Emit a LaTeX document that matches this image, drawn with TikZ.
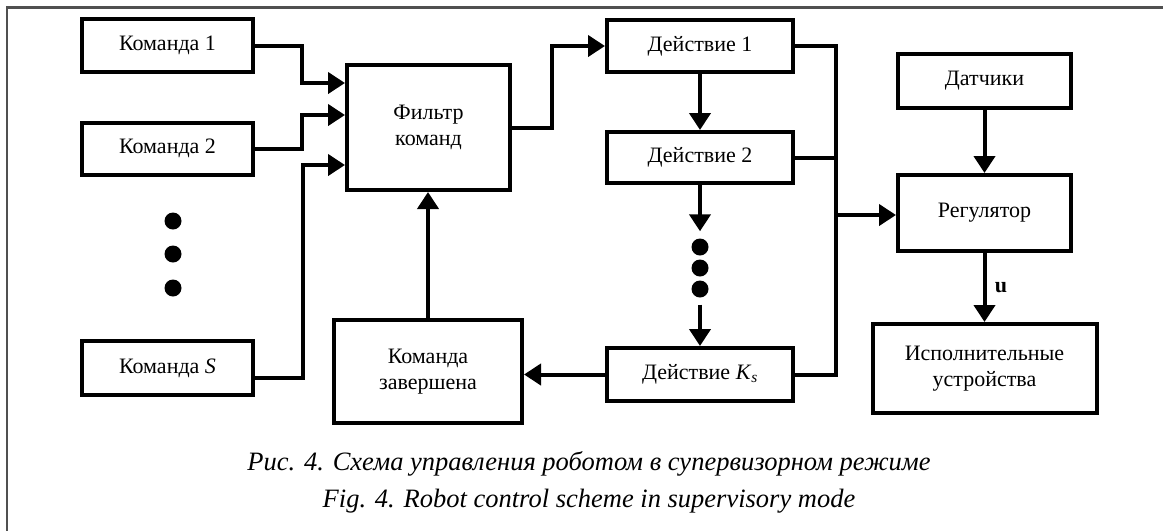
\documentclass[tikz,border=0pt]{standalone}
\usepackage{fontspec}
\setmainfont{Liberation Serif}
\usetikzlibrary{arrows.meta, positioning, calc}
\definecolor{framegray}{RGB}{80,80,80}
\newcommand{\blkfont}{\fontsize{22}{26.5}\selectfont}
\newcommand{\capfont}{\fontsize{26.5}{30}\selectfont\itshape}

\begin{document}
\begin{tikzpicture}[
    x=1pt, y=-1pt,
    blk/.style={draw, line width=4pt, align=center, inner sep=0pt, font=\blkfont},
    wire/.style={line width=4pt},
    arr/.style={wire, -{Triangle[length=17pt, width=21pt]}},
    bigdot/.style={circle, fill, inner sep=0pt, minimum size=17pt},
    captxt/.style={font=\capfont, anchor=base}
  ]
  \useasboundingbox (0,0) rectangle (1163,531);
  % frame
  \draw[framegray, line width=2.3pt] (1163,7.5) -- (7,7.5) -- (7,531);

  % commands
  \node[blk, minimum width=171pt, minimum height=53pt] (cmd1) at (167.5,45.5) {Команда 1};
  \node[blk, minimum width=171pt, minimum height=52pt] (cmd2) at (167.5,148.5) {Команда 2};
  \node[blk, minimum width=171pt, minimum height=54pt] (cmdS) at (167.5,368) {Команда \textit{S}};
  \node[bigdot] (cdot1) at (173,221) {};
  \node[bigdot] (cdot2) at (173,254) {};
  \node[bigdot] (cdot3) at (173,288) {};

  \node[blk, minimum width=163pt, minimum height=125pt] (filter) at (428.5,127.5) {Фильтр\\команд};
  \node[blk, minimum width=188pt, minimum height=103pt] (done) at (428,371.5) {Команда\\завершена};

  % actions
  \node[blk, minimum width=186pt, minimum height=52pt] (act1) at (700,46) {Действие 1};
  \node[blk, minimum width=186pt, minimum height=51pt] (act2) at (700,157.5) {Действие 2};
  \node[bigdot] (adot1) at (700,247) {};
  \node[bigdot] (adot2) at (700,268) {};
  \node[bigdot] (adot3) at (700,289) {};
  \node[blk, minimum width=186pt, minimum height=53pt] (actK) at (700,374.5) {Действие \textit{K}\textsubscript{\textit{s}}};

  % controller side
  \node[blk, minimum width=173pt, minimum height=54pt] (sens) at (984.5,81) {Датчики};
  \node[blk, minimum width=173pt, minimum height=76pt] (reg) at (984.5,213) {Регулятор};
  \node[blk, minimum width=224pt, minimum height=89pt] (exec) at (984.5,368.5) {Исполнительные\\устройства};

  \coordinate (busTop) at (836,46);
  \coordinate (busBot) at (836,374.5);

  % connectors
  \draw[arr] (cmd1.east) -- ++(47,0) |- ([yshift=44.5pt]filter.west);
  \draw[arr] (cmd2.east) -- ++(47,0) |- ([yshift=12.5pt]filter.west);
  \draw[arr] ([yshift=-10pt]cmdS.east) -- ++(48,0) |- ([yshift=-37.5pt]filter.west);
  \draw[arr] (filter.east) -- ++(40,0) |- (act1.west);
  \draw[arr] (done.north) -- (done.north |- filter.south);
  \draw[arr] (act1.south) -- (act2.north);
  \draw[arr, shorten >=7pt] (act2.south) -- (adot1.north);
  \draw[arr, shorten <=7pt] (adot3.south) -- (actK.north);
  \draw[arr] (actK.west) -- (actK.west -| done.east);
  \draw[wire] (act1.east) -- (busTop) -- (busBot) -- (actK.east);
  \draw[wire] (act2.east) -- (act2.east -| busTop);
  \draw[arr] ([yshift=-2pt]reg.west -| busTop) -- ([yshift=-2pt]reg.west);
  \draw[arr] (sens.south) -- (reg.north);
  \draw[arr] (reg.south) -- (exec.north)
    node[midway, right, xshift=5pt, font=\fontsize{22}{24}\selectfont\bfseries] (ulbl) {u};

  % caption
  \node[captxt] (capRu) at (589,470) {Рис. 4. Схема управления роботом в супервизорном режиме};
  \node[captxt] (capEn) at (589,507) {Fig. 4. Robot control scheme in supervisory mode};
\end{tikzpicture}
\end{document}
